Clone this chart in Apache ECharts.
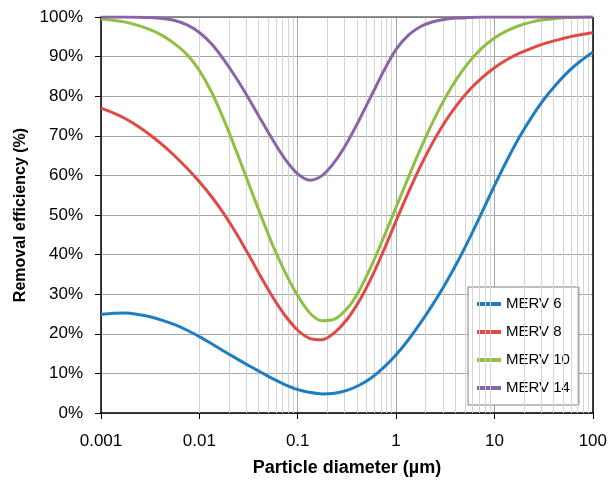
<!DOCTYPE html>
<html>
<head>
<meta charset="utf-8">
<script src="https://cdn.jsdelivr.net/npm/echarts@6/dist/echarts.min.js"></script>
<style>
  html, body { margin: 0; padding: 0; background: #ffffff; }
  #chart { width: 610px; height: 482px; }
</style>
</head>
<body>
<div id="chart"></div>
<script>
// Particle diameters (µm), eighth-decade steps
var diameters = [
  0.001, 0.001334, 0.001778, 0.002371, 0.003162, 0.004217, 0.005623, 0.007499,
  0.01, 0.01334, 0.01778, 0.02371, 0.03162, 0.04217, 0.05623, 0.07499,
  0.1, 0.1334, 0.1778, 0.2371, 0.3162, 0.4217, 0.5623, 0.7499,
  1, 1.334, 1.778, 2.371, 3.162, 4.217, 5.623, 7.499,
  10, 13.34, 17.78, 23.71, 31.62, 42.17, 56.23, 74.99, 100
];

// Removal efficiency (%)
var merv6 = [
  24.9, 25.2, 25.25, 24.9, 24.3, 23.4, 22.3, 20.9,
  19.3, 17.5, 15.6, 13.8, 12.0, 10.3, 8.6, 7.1,
  5.9, 5.2, 4.8, 5.0, 5.7, 7.0, 8.9, 11.5,
  14.7, 18.5, 22.8, 27.5, 32.6, 38.2, 44.3, 50.8,
  57.4, 63.7, 69.5, 74.6, 79.1, 82.9, 86.2, 88.9, 91.1
];
var merv8 = [
  77.0, 75.8, 74.3, 72.4, 70.2, 67.7, 64.9, 61.8,
  58.4, 54.6, 50.3, 45.4, 40.0, 34.4, 29.1, 24.5,
  20.9, 18.8, 18.5, 20.3, 23.6, 28.3, 34.2, 41.1,
  48.5, 55.7, 62.4, 68.4, 73.6, 78.0, 81.7, 84.7,
  87.2, 89.2, 90.8, 92.1, 93.2, 94.1, 94.9, 95.5, 96.0
];
var merv10 = [
  99.5, 99.2, 98.7, 97.9, 96.8, 95.3, 93.2, 90.5,
  86.5, 81.0, 74.0, 66.2, 58.0, 49.9, 42.1, 35.4,
  29.6, 25.2, 23.3, 23.7, 26.3, 30.9, 37.2, 44.4,
  52.0, 59.5, 66.8, 73.6, 79.6, 84.7, 88.9, 92.2,
  94.7, 96.5, 97.8, 98.7, 99.3, 99.65, 99.85, 99.95, 100.0
];
var merv14 = [
  100.0, 100.0, 100.0, 99.95, 99.85, 99.6, 99.1, 98.0,
  96.1, 93.2, 89.2, 84.6, 79.5, 74.1, 68.8, 64.0,
  60.4, 58.8, 60.0, 63.4, 68.2, 74.0, 80.2, 86.4,
  91.8, 95.4, 97.6, 98.8, 99.45, 99.75, 99.9, 99.97,
  100.0, 100.0, 100.0, 100.0, 100.0, 100.0, 100.0, 100.0, 100.0
];

var seriesNames = ['MERV 6', 'MERV 8', 'MERV 10', 'MERV 14'];
var seriesColors = ['#1f7ec2', '#e04a46', '#8dc043', '#8c62a8'];

var xTickValues = [0.001, 0.01, 0.1, 1, 10, 100];
var xTickLabels = ['0.001', '0.01', '0.1', '1', '10', '100'];
var minorMultipliers = [2, 3, 4, 5, 6, 7, 8, 9];

function zip(xs, ys) {
  return xs.map(function (x, i) { return [x, ys[i]]; });
}

var minorLines = [];
for (var d = 0; d < xTickValues.length - 1; d++) {
  minorMultipliers.forEach(function (m) {
    minorLines.push({ xAxis: +(xTickValues[d] * m).toPrecision(6) });
  });
}

var allValues = [merv6, merv8, merv10, merv14];
var font = 'Liberation Sans';

var series = [{
  name: '_grid',
  type: 'line',
  data: [],
  silent: true,
  z: 1,
  markLine: {
    silent: true,
    symbol: ['none', 'none'],
    animation: false,
    label: { show: false },
    lineStyle: { color: '#d4d4d4', width: 1, type: 'solid' },
    data: minorLines
  }
}, {
  name: '_border',
  type: 'line',
  data: [],
  silent: true,
  z: 3,
  markLine: {
    silent: true,
    symbol: ['none', 'none'],
    animation: false,
    label: { show: false },
    data: [
      { yAxis: 100, lineStyle: { color: '#6e6e6e', width: 1.5, type: 'solid' } },
      { xAxis: 100, lineStyle: { color: '#000000', width: 1.5, type: 'solid' } }
    ]
  }
}];

allValues.forEach(function (vals, i) {
  series.push({
    name: seriesNames[i],
    type: 'line',
    data: zip(diameters, vals),
    smooth: 0.3,
    symbol: 'none',
    z: 5,
    lineStyle: { color: seriesColors[i], width: 3 },
    itemStyle: { color: seriesColors[i] },
    animation: false
  });
});

var chart = echarts.init(document.getElementById('chart'), null, { renderer: 'canvas' });
chart.setOption({
  backgroundColor: '#ffffff',
  animation: false,
  grid: { left: 101, right: 16, top: 17, bottom: 67, containLabel: false },
  legend: {
    data: seriesNames,
    orient: 'vertical',
    left: 468,
    top: 287,
    padding: [7, 9, 7, 9],
    itemGap: 8,
    itemWidth: 24,
    itemHeight: 4,
    icon: 'rect',
    backgroundColor: '#ffffff',
    borderColor: '#7f7f7f',
    borderWidth: 1,
    textStyle: { fontFamily: font, fontSize: 15, color: '#000000', lineHeight: 20 }
  },
  xAxis: {
    type: 'log',
    logBase: 10,
    min: 0.001,
    max: 100,
    name: 'Particle diameter (µm)',
    nameLocation: 'middle',
    nameGap: 46,
    nameTextStyle: { fontFamily: font, fontSize: 18, fontWeight: 'bold', color: '#000000' },
    axisLine: { show: true, onZero: false, lineStyle: { color: '#000000', width: 1.5 } },
    axisTick: { show: true, length: 6, inside: false, lineStyle: { color: '#000000', width: 1 } },
    axisLabel: {
      fontFamily: font, fontSize: 17, color: '#000000', margin: 20,
      formatter: function (v) {
        var best = 0, bd = Infinity;
        xTickValues.forEach(function (t, i) {
          var dd = Math.abs(Math.log10(t) - Math.log10(v));
          if (dd < bd) { bd = dd; best = i; }
        });
        return xTickLabels[best];
      }
    },
    splitLine: { show: true, lineStyle: { color: '#a6a6a6', width: 1 } },
    minorTick: { show: false },
    minorSplitLine: { show: false }
  },
  yAxis: {
    type: 'value',
    min: 0,
    max: 100,
    interval: 10,
    name: 'Removal efficiency (%)',
    nameLocation: 'middle',
    nameRotate: 90,
    nameGap: 70,
    nameTextStyle: { fontFamily: font, fontSize: 16, fontWeight: 'bold', color: '#000000' },
    axisLine: { show: true, lineStyle: { color: '#000000', width: 1.5 } },
    axisTick: { show: true, length: 6, lineStyle: { color: '#000000', width: 1 } },
    axisLabel: { fontFamily: font, fontSize: 17, color: '#000000', margin: 18, formatter: '{value}%' },
    splitLine: { show: true, lineStyle: { color: '#a6a6a6', width: 1 } }
  },
  series: series
});
</script>
</body>
</html>
